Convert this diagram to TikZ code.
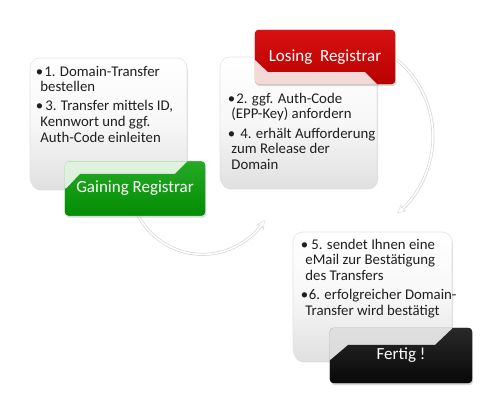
\documentclass[tikz,border=0pt]{standalone}
\usepackage{fontspec}
\setmainfont{Carlito}
\usetikzlibrary{shadows,arrows.meta}
\pgfdeclarelayer{back}
\pgfdeclarelayer{front}
\pgfsetlayers{back,main,front}

\definecolor{grTop}{RGB}{40,172,40}
\definecolor{grBot}{RGB}{0,138,0}
\definecolor{rdTop}{RGB}{218,18,18}
\definecolor{rdBot}{RGB}{182,0,0}
\definecolor{bkTop}{RGB}{42,42,42}
\definecolor{bkBot}{RGB}{6,6,6}

\tikzset{
  infobox/.style={rounded corners=10pt, minimum width=157pt, minimum height=130pt, inner sep=0pt,
    draw=black!11, line width=0.6pt,
    top color=white, bottom color=black!12, middle color=black!3,
    drop shadow={opacity=0.25, shadow xshift=1pt, shadow yshift=-2.5pt}},
  tagname/.style={minimum width=140pt, minimum height=54pt, inner sep=0pt, text=white,
    font=\fontsize{17}{20}\selectfont},
  tagback/.style={rounded corners=4pt, drop shadow={opacity=0.3, shadow xshift=1pt, shadow yshift=-2pt}},
  itemtext/.style={anchor=north west, align=left, inner sep=0pt, text=black!88,
    font=\fontsize{14.8}{15.7}\selectfont},
  flowline/.style={line width=3pt, draw=black!16, -{Stealth[length=9pt,width=9pt]}},
  flowcore/.style={line width=1.6pt, draw=white, shorten >=1.2pt, -{Stealth[length=6pt,width=6pt]}}
}

\begin{document}
\begin{tikzpicture}[x=1pt,y=1pt]
  \useasboundingbox (0,0) rectangle (500,414);

  % labels (text on top)
  \begin{pgfonlayer}{front}
    \node[tagname] (l1) at (135,225.5) {Gaining Registrar};
    \node[tagname] (l2) at (325,357) {Losing\ \ Registrar};
    \node[tagname, minimum width=142pt, minimum height=55pt] (l3) at (401,58.5) {Fertig !};
  \end{pgfonlayer}

  % white boxes
  \node[infobox] (b1) at (108.5,291) {};
  \node[infobox] (b2) at (298.5,292) {};
  \node[infobox, minimum width=159pt, minimum height=128pt] (b3) at (372.5,118) {};

  \node[itemtext] (t1) at ([xshift=6pt,yshift=-8pt]b1.north west)
    {\textbullet\hspace{1pt}1. Domain-Transfer\\
     \hspace*{4.5pt}bestellen\\[3.5pt]
     \textbullet\hspace{2pt}3. Transfer mittels ID,\\
     \hspace*{4.5pt}Kennwort und ggf.\\
     \hspace*{4.5pt}Auth-Code einleiten};
  \node[itemtext] (t2) at ([xshift=8pt,yshift=-36pt]b2.north west)
    {\textbullet\hspace{1pt}2. ggf. Auth-Code\\
     \hspace*{3.5pt}(EPP-Key) anfordern\\[3.5pt]
     \textbullet\hspace{5pt}4. erhält Aufforderung\\
     \hspace*{3.5pt}zum Release der\\
     \hspace*{3.5pt}Domain};
  \node[itemtext] (t3) at ([xshift=8pt,yshift=-7pt]b3.north west)
    {\textbullet\hspace{3pt}5. sendet Ihnen eine\\
     \hspace*{4.5pt}eMail zur Bestätigung\\
     \hspace*{4.5pt}des Transfers\\[3.5pt]
     \textbullet\hspace{0.5pt}6. erfolgreicher Domain-\\
     \hspace*{4.5pt}Transfer wird bestätigt};

  % coloured labels
  \path[tagback, top color=grTop, bottom color=grBot] (l1.south west) rectangle (l1.north east);
  \path[tagback, top color=rdTop, bottom color=rdBot] (l2.south west) rectangle (l2.north east);
  \path[tagback, top color=bkTop, bottom color=bkBot] (l3.south west) rectangle (l3.north east);

  \begin{scope}
    \clip[rounded corners=4pt] (l1.south west) rectangle (l1.north east);
    \fill[white, fill opacity=0.85, rounded corners=10pt] (b1.south west) rectangle (b1.north east);
    \shade[top color=grTop, bottom color=grBot] (62,221) -- (80,240) -- (175,240) -- (192,257)
      -- (212,257) -- (212,194) -- (62,194) -- cycle;
  \end{scope}
  \begin{scope}
    \clip[rounded corners=4pt] (l2.south west) rectangle (l2.north east);
    \fill[white, fill opacity=0.85, rounded corners=10pt] (b2.south west) rectangle (b2.north east);
    \shade[top color=rdTop, bottom color=rdBot] (252,357) -- (268,342) -- (365,342) -- (380,327)
      -- (400,327) -- (400,389) -- (252,389) -- cycle;
  \end{scope}
  \begin{scope}
    \clip[rounded corners=4pt] (l3.south west) rectangle (l3.north east);
    \fill[white, fill opacity=0.85, rounded corners=10pt] (b3.south west) rectangle (b3.north east);
    \shade[top color=bkTop, bottom color=bkBot] (328,52) -- (348,69) -- (435,69) -- (455,88)
      -- (475,88) -- (475,27) -- (328,27) -- cycle;
  \end{scope}

  % arrows between the steps
  \begin{pgfonlayer}{back}
    \draw[flowline] ([yshift=7pt]l1.south) arc[start angle=202, end angle=328, radius=73];
    \draw[flowcore] ([yshift=7pt]l1.south) arc[start angle=202, end angle=328, radius=73];
    \draw[flowline] ([xshift=2pt,yshift=-3pt]l2.east) arc[start angle=50, end angle=-50, radius=100];
    \draw[flowcore] ([xshift=2pt,yshift=-3pt]l2.east) arc[start angle=50, end angle=-50, radius=100];
  \end{pgfonlayer}
\end{tikzpicture}
\end{document}
